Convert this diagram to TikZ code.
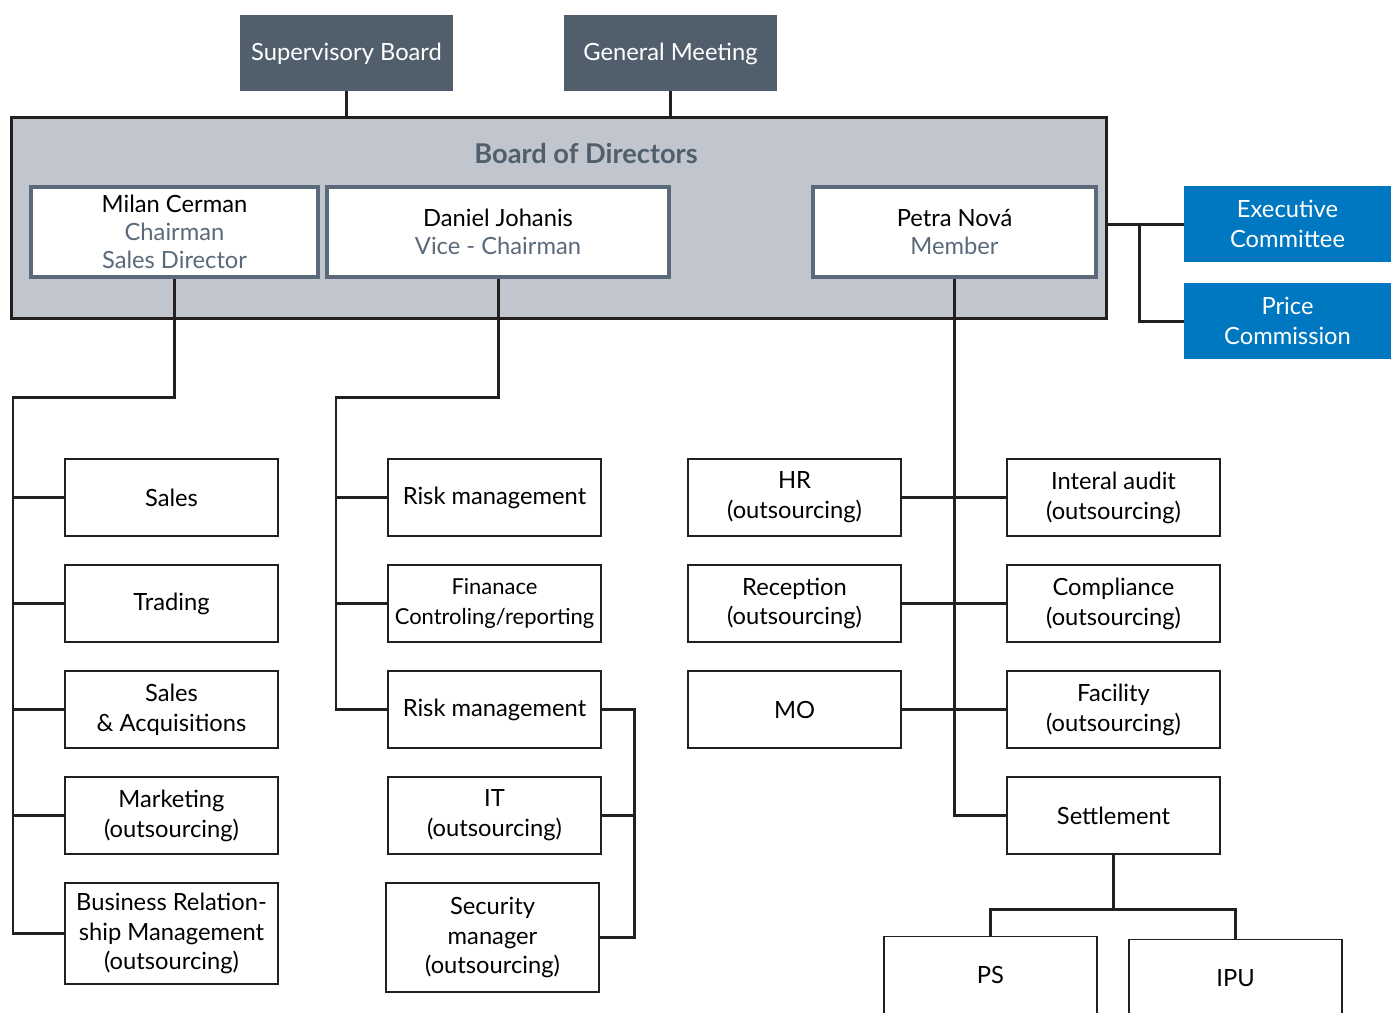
\documentclass[tikz,border=0pt]{standalone}
\usepackage{fontspec}
\setmainfont{Lato}
\usetikzlibrary{positioning}

\definecolor{slate}{HTML}{515F6C}
\definecolor{slatetext}{HTML}{5B6A7A}
\definecolor{boardgray}{HTML}{C0C5CE}
\definecolor{execblue}{HTML}{0078C1}
\definecolor{linegray}{HTML}{231F20}

\begin{document}
\begin{tikzpicture}[x=0.02cm, y=-0.02cm,
    font=\fontsize{13.5pt}{17pt}\selectfont,
    unit/.style={draw=linegray, line width=0.8pt, fill=white, align=center,
      minimum width=4.26cm, minimum height=1.54cm, inner sep=1pt},
    top/.style={fill=slate, text=white, align=center,
      text height=1.1em, text depth=0.25em,
      minimum width=4.26cm, minimum height=1.52cm},
    blue/.style={fill=execblue, text=white, align=center,
      minimum width=4.14cm, minimum height=1.52cm},
    member/.style={draw=slatetext, line width=2pt, fill=white, align=center,
      minimum height=1.8cm, font=\fontsize{13.5pt}{16pt}\selectfont},
    link/.style={draw=linegray, line width=1.7pt}]
  \useasboundingbox (0,0) rectangle (1391,1012);
  \clip (0,0) rectangle (1391,1012);

  % top bodies
  \node[top] (sup) at (346.5,53) {Supervisory Board};
  \node[top] (gm)  at (670.5,53) {General Meeting};

  % board of directors
  \node[draw=linegray, line width=1.7pt, fill=boardgray,
    minimum width=21.92cm, minimum height=4.04cm] (bod) at (559,218) {};
  \node[text=slate, font=\fontsize{15.5pt}{17pt}\selectfont\bfseries] (bodtitle) at (586,153) {Board of Directors};
  \node[member, minimum width=5.74cm] (milan)  at (174.5,232) {Milan Cerman\\\textcolor{slatetext}{Chairman}\\\textcolor{slatetext}{Sales Director}};
  \node[member, minimum width=6.84cm] (daniel) at (498,232)   {Daniel Johanis\\\textcolor{slatetext}{Vice - Chairman}};
  \node[member, minimum width=5.66cm] (petra)  at (954.5,232) {Petra Nová\\\textcolor{slatetext}{Member}};

  \node[blue] (exec)  at (1287.5,224) {Executive\\Committee};
  \node[blue] (price) at (1287.5,321) {Price\\Commission};

  % left column
  \node[unit] (sales)     at (171.5,497.5) {Sales};
  \node[unit] (trading)   at (171.5,603.5) {Trading};
  \node[unit] (salesacq)  at (171.5,709.5) {Sales\\\& Acquisitions};
  \node[unit] (marketing) at (171.5,815.5) {Marketing\\(outsourcing)};
  \node[unit, minimum height=2.02cm] (bizrel) at (171.5,933.5) {Business Relation-\\ship Management\\(outsourcing)};

  % middle column
  \node[unit] (riskone)  at (494.5,497.5) {Risk management};
  \node[unit, font=\fontsize{12.5pt}{17pt}\selectfont] (finance) at (494.5,603.5) {Finanace\\Controling/reporting};
  \node[unit] (risktwo)  at (494.5,709.5) {Risk management};
  \node[unit] (it)       at (494.5,815.5) {IT\\(outsourcing)};
  \node[unit, minimum height=2.18cm] (security) at (492.5,937.5) {Security\\manager\\(outsourcing)};

  % right columns
  \node[unit] (hr)         at (794.5,497.5)  {HR\\(outsourcing)};
  \node[unit] (reception)  at (794.5,603.5)  {Reception\\(outsourcing)};
  \node[unit] (mo)         at (794.5,709.5)  {MO};
  \node[unit] (audit)      at (1113.5,497.5) {Interal audit\\(outsourcing)};
  \node[unit] (compliance) at (1113.5,603.5) {Compliance\\(outsourcing)};
  \node[unit] (facility)   at (1113.5,709.5) {Facility\\(outsourcing)};
  \node[unit] (settle)     at (1113.5,815.5) {Settlement};
  \node[unit] (ps)         at (990.5,975)    {PS};
  \node[unit] (ipu)        at (1235.5,978)   {IPU};

  % junction points
  \coordinate (lt) at (13,397);
  \coordinate (mt) at (336,397);
  \coordinate (rb) at (634,709.5);
  \coordinate (ej) at (1139,224);
  \coordinate (sj) at (1113.5,909);

  % connectors
  \draw[link] (sup.south) -- (sup.south |- bod.north);
  \draw[link] (gm.south) -- (gm.south |- bod.north);
  \draw[link] (bod.east |- exec.west) -- (exec.west);
  \draw[link] (ej) |- (price.west);

  \draw[link] (milan.south) |- (lt) |- (bizrel.west);
  \foreach \n in {sales,trading,salesacq,marketing}
    \draw[link] (lt |- \n.west) -- (\n.west);

  \draw[link] (daniel.south) |- (mt) |- (risktwo.west);
  \foreach \n in {riskone,finance}
    \draw[link] (mt |- \n.west) -- (\n.west);
  \draw[link] (risktwo.east) -- (rb) |- (security.east);
  \draw[link] (rb |- it.east) -- (it.east);

  \draw[link] (petra.south) |- (settle.west);
  \draw[link] (hr.east) -- (audit.west);
  \draw[link] (reception.east) -- (compliance.west);
  \draw[link] (mo.east) -- (facility.west);

  \draw[link] (settle.south) -- (sj);
  \draw[link] (ps.north) |- (sj) -| (ipu.north);
\end{tikzpicture}
\end{document}
